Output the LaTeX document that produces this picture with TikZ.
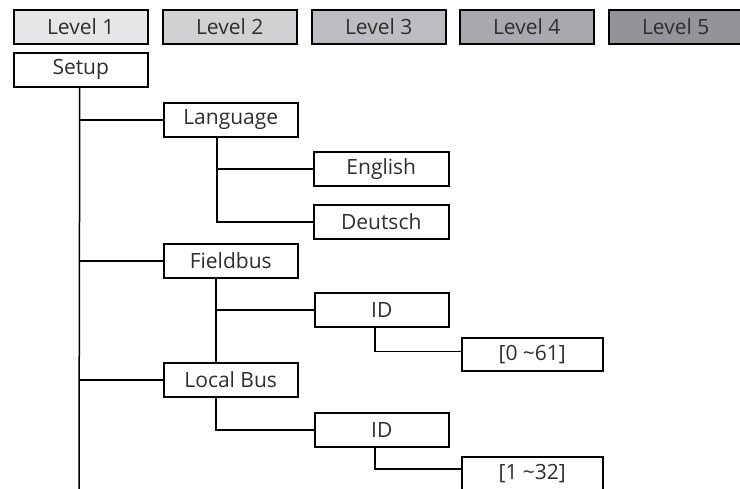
\documentclass[tikz,border=0pt]{standalone}
\usepackage{fontspec}
\setmainfont{Open Sans}
\definecolor{txt}{HTML}{2E2E2E}
\definecolor{lvA}{HTML}{E6E6E8}
\definecolor{lvB}{HTML}{D1D1D4}
\definecolor{lvC}{HTML}{BDBDC1}
\definecolor{lvD}{HTML}{A9A9AD}
\definecolor{lvE}{HTML}{949498}
\tikzset{
  box/.style={draw=black, line width=1.5pt, rectangle, inner sep=0pt,
    minimum width=134pt, minimum height=34pt, anchor=north west,
    text=txt, font=\fontsize{21}{24}\selectfont},
  link/.style={draw=black, line width=1.5pt}
}
\begin{document}
\begin{tikzpicture}[x=1pt,y=-1pt]
\useasboundingbox (0,0) rectangle (740,488);
\clip (0,0) rectangle (740,488);
\fill[white] (0,0) rectangle (740,488);
% level header
\node[box, fill=lvA] (l1) at (13,9) {Level 1};
\node[box, fill=lvB] (l2) at (162,9) {Level 2};
\node[box, fill=lvC] (l3) at (311,9) {Level 3};
\node[box, fill=lvD] (l4) at (459,9) {Level 4};
\node[box, fill=lvE, minimum width=140pt] (l5) at (608,9) {\hspace*{-6pt}Level 5};
% tree
\node[box] (setup) at (13,52) {Setup};
\node[box] (lang) at (163,102) {Language};
\node[box, minimum width=135pt] (english) at (313,151) {English};
\node[box, minimum width=135pt] (deutsch) at (313,204) {Deutsch};
\node[box] (fieldbus) at (163,243) {Fieldbus};
\node[box] (id1) at (314,292) {ID};
\node[box, minimum width=141pt, minimum height=33pt] (r1) at (461,337) {[0 \textasciitilde61]};
\node[box] (localbus) at (163,362) {Local Bus};
\node[box] (id2) at (314,412) {ID};
\node[box, minimum width=141pt] (r2) at (461,456) {[1 \textasciitilde32]};
\coordinate (trunkend) at (79,490);
% connectors
\draw[link] ([xshift=-1pt]setup.south) -- (trunkend);
\draw[link] (lang.west) -- (lang.west -| trunkend);
\draw[link] (fieldbus.west) -- (fieldbus.west -| trunkend);
\draw[link] (localbus.west) -- (localbus.west -| trunkend);
\draw[link] ([xshift=54pt]lang.south west) |- (deutsch.west);
\draw[link] ([xshift=54pt]lang.south west) |- (english.west);
\draw[link] ([xshift=53pt]fieldbus.south west) -- ([xshift=53pt]localbus.north west);
\draw[link] ([xshift=53pt]fieldbus.south west) |- (id1.west);
\draw[link] ([xshift=61pt]id1.south west) |- ([yshift=3pt]r1.west);
\draw[link] ([xshift=53pt]localbus.south west) |- (id2.west);
\draw[link] ([xshift=61pt]id2.south west) |- ([yshift=5pt]r2.west);
\end{tikzpicture}
\end{document}
